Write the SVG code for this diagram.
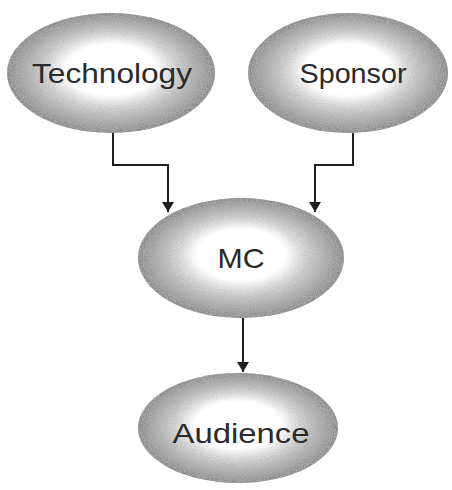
<svg xmlns="http://www.w3.org/2000/svg" width="452" height="490" viewBox="0 0 452 490">
<defs>
<radialGradient id="g" cx="0.5" cy="0.5" r="0.5" fx="0.5" fy="0.45">
<stop offset="0" stop-color="#ffffff"/>
<stop offset="0.42" stop-color="#ffffff"/>
<stop offset="0.72" stop-color="#c4c4c4"/>
<stop offset="1" stop-color="#858585"/>
</radialGradient>
<filter id="grain" x="0" y="0" width="1" height="1">
<feTurbulence type="fractalNoise" baseFrequency="0.85" numOctaves="2" seed="3" result="n"/>
<feColorMatrix in="n" type="matrix" values="0 0 0 0 1  0 0 0 0 1  0 0 0 0 1  2.4 0 0 0 -0.9" result="noise"/>
<feColorMatrix in="SourceGraphic" type="matrix" values="0 0 0 0 0.45  0 0 0 0 0.45  0 0 0 0 0.45  -2.4 0 0 0 2.2" result="dark"/>
<feComposite in="dark" in2="noise" operator="arithmetic" k1="1" k2="0" k3="0" k4="0" result="m"/>
<feComposite in="m" in2="SourceGraphic" operator="in" result="m2"/>
<feMerge><feMergeNode in="SourceGraphic"/><feMergeNode in="m2"/></feMerge>
</filter>
<marker id="arr" viewBox="0 0 10 12" refX="10" refY="6" markerWidth="12" markerHeight="12" markerUnits="userSpaceOnUse" orient="auto">
<path d="M0,0 L10,6 L0,12 Z" fill="#1e1e1e"/>
</marker>
</defs>
<style>
.node ellipse{fill:url(#g);filter:url(#grain);}
.node text{font-family:"Liberation Sans",Arial,sans-serif;font-size:28px;fill:#2a2a2a;text-anchor:middle;}
.conn path{fill:none;stroke:#1e1e1e;stroke-width:2;marker-end:url(#arr);}
</style>
<rect width="452" height="490" fill="#ffffff"/>
<g id="connectors" class="conn">
<path d="M113,133 V165 H168 V212"/>
<path d="M353,133 V165 H315 V212"/>
<path d="M243,318 V372"/>
</g>
<g id="technology" class="node">
<ellipse cx="111" cy="73" rx="104" ry="60"/>
<text x="112" y="83" textLength="160" lengthAdjust="spacingAndGlyphs">Technology</text>
</g>
<g id="sponsor" class="node">
<ellipse cx="348" cy="73" rx="100" ry="60"/>
<text x="353" y="83" textLength="107" lengthAdjust="spacingAndGlyphs">Sponsor</text>
</g>
<g id="mc" class="node">
<ellipse cx="241" cy="258" rx="103" ry="60"/>
<text x="241" y="268" textLength="47" lengthAdjust="spacingAndGlyphs">MC</text>
</g>
<g id="audience" class="node">
<ellipse cx="238" cy="428" rx="100" ry="55"/>
<text x="241" y="443" textLength="137" lengthAdjust="spacingAndGlyphs">Audience</text>
</g>
</svg>
